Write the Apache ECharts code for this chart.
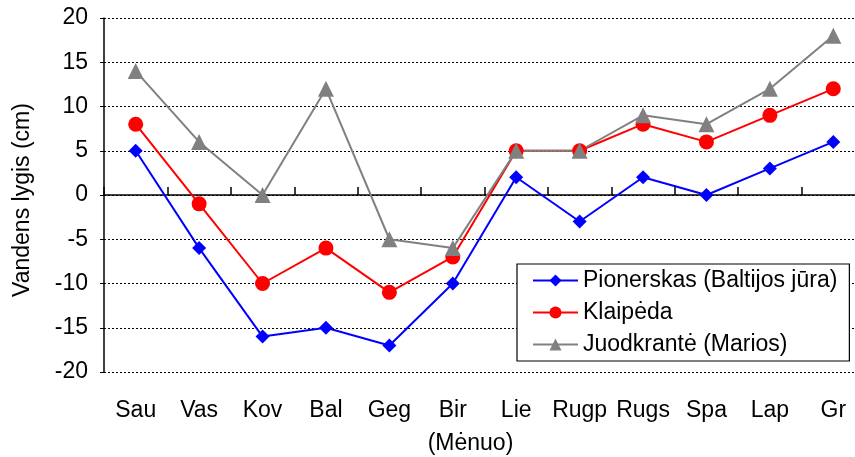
<!DOCTYPE html>
<html>
<head>
<meta charset="utf-8">
<script src="https://cdn.jsdelivr.net/npm/echarts@6/dist/echarts.min.js"></script>
<style>html,body{margin:0;padding:0;background:#fff;}#c{width:855px;height:457px;}</style>
</head>
<body>
<div id="c"></div>
<script>
const months = ['Sau','Vas','Kov','Bal','Geg','Bir','Lie','Rugp','Rugs','Spa','Lap','Gr'];
const pionerskas = [5, -6, -16, -15, -17, -10, 2, -3, 2, 0, 3, 6];
const klaipeda = [8, -1, -10, -6, -11, -7, 5, 5, 8, 6, 9, 12];
const juodkrante = [14, 6, 0, 12, -5, -6, 5, 5, 9, 8, 12, 18];
const seriesNames = ['Pionerskas (Baltijos jūra)', 'Klaipėda', 'Juodkrantė (Marios)'];
const yTicks = {min: -20, max: 20, step: 5};

const FONT = '"Liberation Sans", Arial, sans-serif';
const chart = echarts.init(document.getElementById('c'), null, {renderer: 'canvas'});
chart.setOption({
  animation: false,
  backgroundColor: '#ffffff',
  textStyle: {fontFamily: FONT, color: '#000'},
  grid: {left: 104, top: 18, width: 761, height: 354, containLabel: false, outerBoundsMode: 'none'},
  xAxis: [
    {
      type: 'category', data: months, position: 'bottom', boundaryGap: true,
      axisLine: {show: false, onZero: false}, axisTick: {show: false},
      axisLabel: {fontSize: 23, color: '#000', margin: 27, fontFamily: FONT, interval: 0},
      name: '(Mėnuo)', nameLocation: 'middle', nameGap: 60,
      nameTextStyle: {fontSize: 23, color: '#000', fontFamily: FONT, padding: [0, 28, 0, 0]}
    },
    {
      type: 'category', data: months, position: 'bottom', boundaryGap: true,
      axisLine: {show: true, onZero: true, lineStyle: {color: '#000', width: 1.5}},
      axisTick: {show: true, inside: true, length: 8, lineStyle: {color: '#000', width: 1.5}, interval: 0},
      axisLabel: {show: false}, splitLine: {show: false}
    }
  ],
  yAxis: {
    type: 'value', min: yTicks.min, max: yTicks.max, interval: yTicks.step,
    axisLine: {show: true, onZero: false, lineStyle: {color: '#000', width: 1.5}},
    axisTick: {show: true, length: 4, lineStyle: {color: '#000'}},
    axisLabel: {fontSize: 23, color: '#000', margin: 16, fontFamily: FONT},
    splitLine: {show: true, lineStyle: {color: '#000', type: [2, 2], width: 1}},
    name: 'Vandens lygis (cm)', nameLocation: 'middle', nameGap: 70, nameRotate: 90,
    nameTextStyle: {fontSize: 23, color: '#000', fontFamily: FONT, padding: [0, 10, 0, 0]}
  },
  legend: {
    orient: 'vertical', left: 517, top: 264,
    backgroundColor: '#fff', borderColor: '#000', borderWidth: 1.2,
    padding: [5, 12, 5, 15], itemGap: 9, itemWidth: 45, itemHeight: 15,
    textStyle: {fontSize: 23, color: '#000', fontFamily: FONT},
    data: seriesNames
  },
  series: [
    {name: seriesNames[0], type: 'line', xAxisIndex: 0, data: pionerskas, symbol: 'diamond', symbolSize: 14,
     itemStyle: {color: '#0000ff'}, lineStyle: {color: '#0000ff', width: 2}},
    {name: seriesNames[1], type: 'line', xAxisIndex: 0, data: klaipeda, symbol: 'circle', symbolSize: 15,
     itemStyle: {color: '#ff0000'}, lineStyle: {color: '#ff0000', width: 2}},
    {name: seriesNames[2], type: 'line', xAxisIndex: 0, data: juodkrante, symbol: 'triangle', symbolSize: 16,
     itemStyle: {color: '#808080'}, lineStyle: {color: '#808080', width: 2}}
  ]
});
</script>
</body>
</html>
